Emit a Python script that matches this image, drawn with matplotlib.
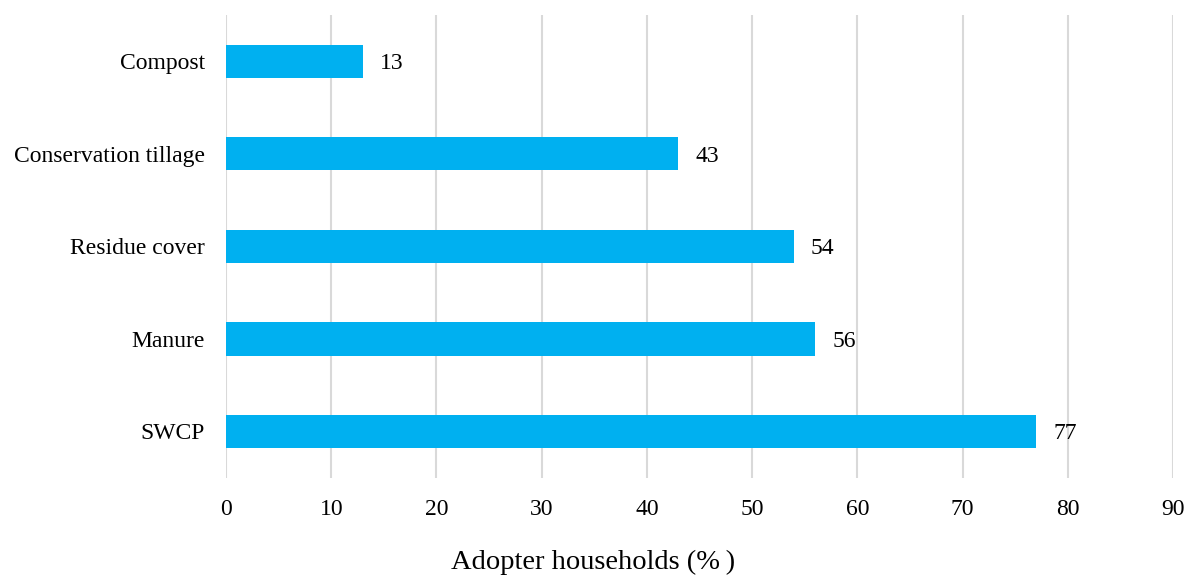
import matplotlib.pyplot as plt
import numpy as np

practices = ['SWCP', 'Manure', 'Residue cover', 'Conservation tillage', 'Compost']
adopters = [77, 56, 54, 43, 13]
xticks = [0, 10, 20, 30, 40, 50, 60, 70, 80, 90]

plt.rcParams['font.family'] = ['Liberation Serif', 'DejaVu Serif']

fig = plt.figure(figsize=(11.86, 5.77), dpi=100)
ax = fig.add_axes([0.1906, 0.172, 0.7984, 0.802])

ypos = np.arange(len(practices))
ax.barh(ypos, adopters, height=0.36, color='#00B0F0', zorder=3)
for y, v in zip(ypos, adopters):
    ax.text(v + 1.6, y, str(v), va='center_baseline', ha='left', fontsize=17, color='#000000')

ax.set_xlim(0, 90)
ax.set_ylim(-0.5, 4.5)
ax.set_xticks(xticks)
ax.set_yticks(ypos)
ax.set_yticklabels(practices, va='center_baseline')
ax.tick_params(axis='both', length=0, labelsize=17, colors='#000000')
ax.tick_params(axis='x', pad=15)
ax.tick_params(axis='y', pad=15)
ax.grid(axis='x', color='#D9D9D9', linewidth=1.5, zorder=0)
for s in ax.spines.values():
    s.set_visible(False)
fig.text(0.5, 0.026, 'Adopter households (%\u2009)', fontsize=20.5, ha='center', va='center')

fig.savefig('out.png', dpi=100)
